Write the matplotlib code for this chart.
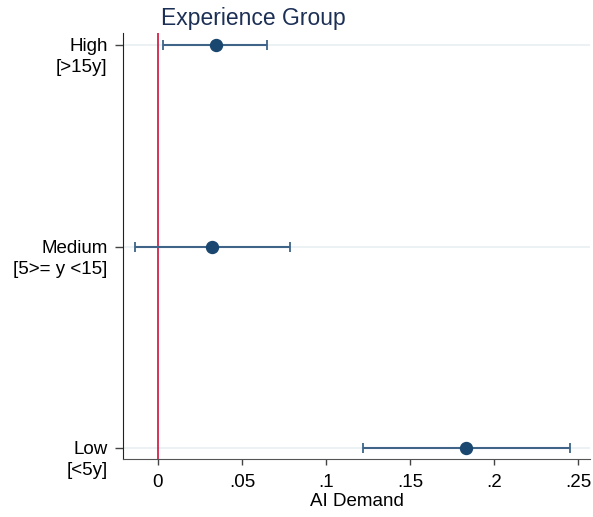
import numpy as np
import matplotlib.pyplot as plt
import matplotlib.transforms as mtransforms

plt.rcParams['font.family'] = ['Liberation Sans', 'DejaVu Sans']

# data
groups = ["High\n[>15y]", "Medium\n[5>= y <15]", "Low\n[<5y]"]
coef = [0.0345, 0.032, 0.1833]
ci_low = [0.0032, -0.0139, 0.1218]
ci_high = [0.065, 0.0786, 0.2452]
xticks = [0, 0.05, 0.1, 0.15, 0.2, 0.25]
xticklabels = ["0", ".05", ".1", ".15", ".2", ".25"]

navy = '#1a476f'
barcol = '#3f6487'

fig = plt.figure(figsize=(5.93, 5.17), dpi=100)
ax = fig.add_axes([0.2074, 0.112, 0.7875, 0.824])

ypos = np.arange(len(groups), 0, -1)
coef = np.array(coef)
err = np.array([coef - np.array(ci_low), np.array(ci_high) - coef])

for y in ypos:
    ax.axhline(y, color='#eaf0f2', lw=1.3, zorder=0)
ax.axvline(0, color='#d0103a', lw=1.2, zorder=1)

ax.errorbar(coef, ypos, xerr=err, fmt='none', ecolor=barcol, elinewidth=1.5,
            capsize=3.6, capthick=1.3, zorder=2)
ax.plot(coef, ypos, 'o', color=navy, ms=8.6, zorder=3)

ax.set_xlim(-0.0208, 0.2571)
ax.set_ylim(0.945, 3.06)
ax.set_xticks(xticks)
ax.set_xticklabels(xticklabels, fontsize=13.5)
ax.set_yticks(ypos)
ax.set_yticklabels([])
ax.tick_params(axis='y', length=5.5, width=1, color='#444444', direction='out')
ax.tick_params(axis='x', length=4.5, width=1, color='#444444', direction='out', pad=6)

# two-line y labels, first line centred on the tick
trans = mtransforms.blended_transform_factory(ax.transAxes, ax.transData)
trans = trans + mtransforms.ScaledTranslation(0, 5 / 72, fig.dpi_scale_trans)
for y, lab in zip(ypos, groups):
    ax.text(-0.033, y, lab, transform=trans, ha='right', va='top',
            multialignment='right', fontsize=13.5, linespacing=1.3)

for s in ['top', 'right']:
    ax.spines[s].set_visible(False)
ax.spines['left'].set_color('#222222')
ax.spines['bottom'].set_color('#555555')

fig.text(253 / 593, 1 - 18 / 517, "Experience Group", ha='center', va='center',
         fontsize=16.5, color='#1c2f55')
fig.text(0.2074 + 0.7875 / 2, 1 - 501 / 517, "AI Demand", ha='center', va='center',
         fontsize=13.5)

fig.savefig('out.png', dpi=100, facecolor='white')
